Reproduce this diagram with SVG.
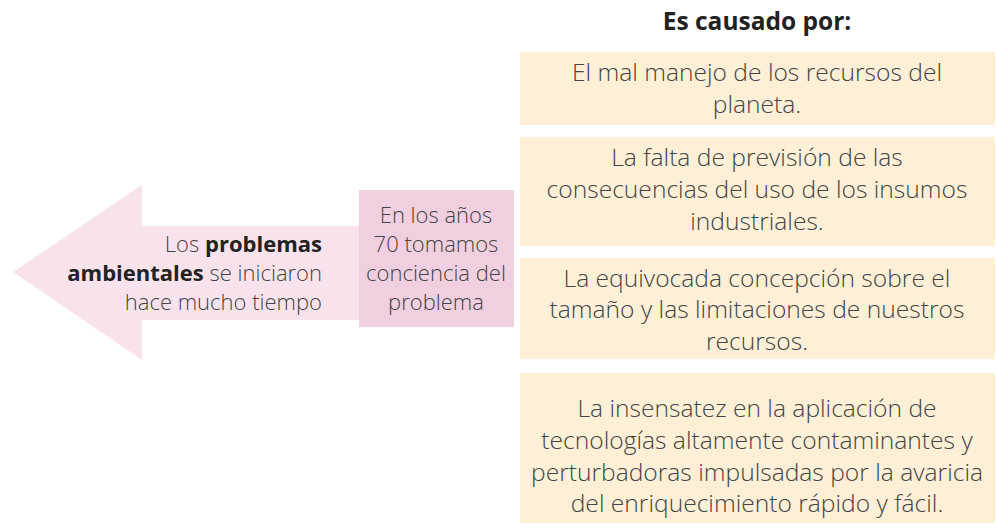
<svg xmlns="http://www.w3.org/2000/svg" width="996" height="532" viewBox="0 0 996 532">
<style>
.t{font-family:"Open Sans","Noto Sans","Liberation Sans",sans-serif;font-weight:300;font-size:22px;fill:#444;}
.rt{font-size:24.6px;}
.b{font-weight:700;fill:#222;}
.ti{font-size:24.5px;}
.c{text-anchor:middle;}
.r{text-anchor:end;}
.cause{fill:#fdf0d7;}
</style>
<rect width="996" height="532" fill="#fff"/>
<g id="arrow">
<polygon points="13,272 142,185 142,226 360,226 360,320 142,320 142,360" fill="#f8e3ec"/>
<text class="t r" x="322"><tspan x="322" y="252">Los <tspan class="b">problemas</tspan></tspan><tspan x="322" y="281"><tspan class="b">ambientales</tspan> se iniciaron</tspan><tspan x="322" y="310">hace mucho tiempo</tspan></text>
</g>
<g id="years">
<rect x="359" y="190" width="155" height="137" fill="#f0cfe0"/>
<text class="t c"><tspan x="436" y="223">En los años</tspan><tspan x="436" y="252">70 tomamos</tspan><tspan x="436" y="281">conciencia del</tspan><tspan x="436" y="310">problema</tspan></text>
</g>
<g id="title">
<text class="t b c ti" x="757" y="30">Es causado por:</text>
</g>
<g id="cause1">
<rect class="cause" x="520" y="52" width="475" height="73"/>
<text class="t rt c"><tspan x="757" y="81">El mal manejo de los recursos del</tspan><tspan x="757" y="113">planeta.</tspan></text>
</g>
<g id="cause2">
<rect class="cause" x="520" y="137" width="475" height="109"/>
<text class="t rt c"><tspan x="757" y="166">La falta de previsión de las</tspan><tspan x="757" y="198">consecuencias del uso de los insumos</tspan><tspan x="757" y="230">industriales.</tspan></text>
</g>
<g id="cause3">
<rect class="cause" x="520" y="258" width="475" height="101"/>
<text class="t rt c"><tspan x="757" y="287">La equivocada concepción sobre el</tspan><tspan x="757" y="318">tamaño y las limitaciones de nuestros</tspan><tspan x="757" y="350">recursos.</tspan></text>
</g>
<g id="cause4">
<rect class="cause" x="520" y="373" width="475" height="150"/>
<text class="t rt c"><tspan x="757" y="417">La insensatez en la aplicación de</tspan><tspan x="757" y="449">tecnologías altamente contaminantes y</tspan><tspan x="757" y="481">perturbadoras impulsadas por la avaricia</tspan><tspan x="757" y="512">del enriquecimiento rápido y fácil.</tspan></text>
</g>
<g id="connectors"></g>
</svg>
